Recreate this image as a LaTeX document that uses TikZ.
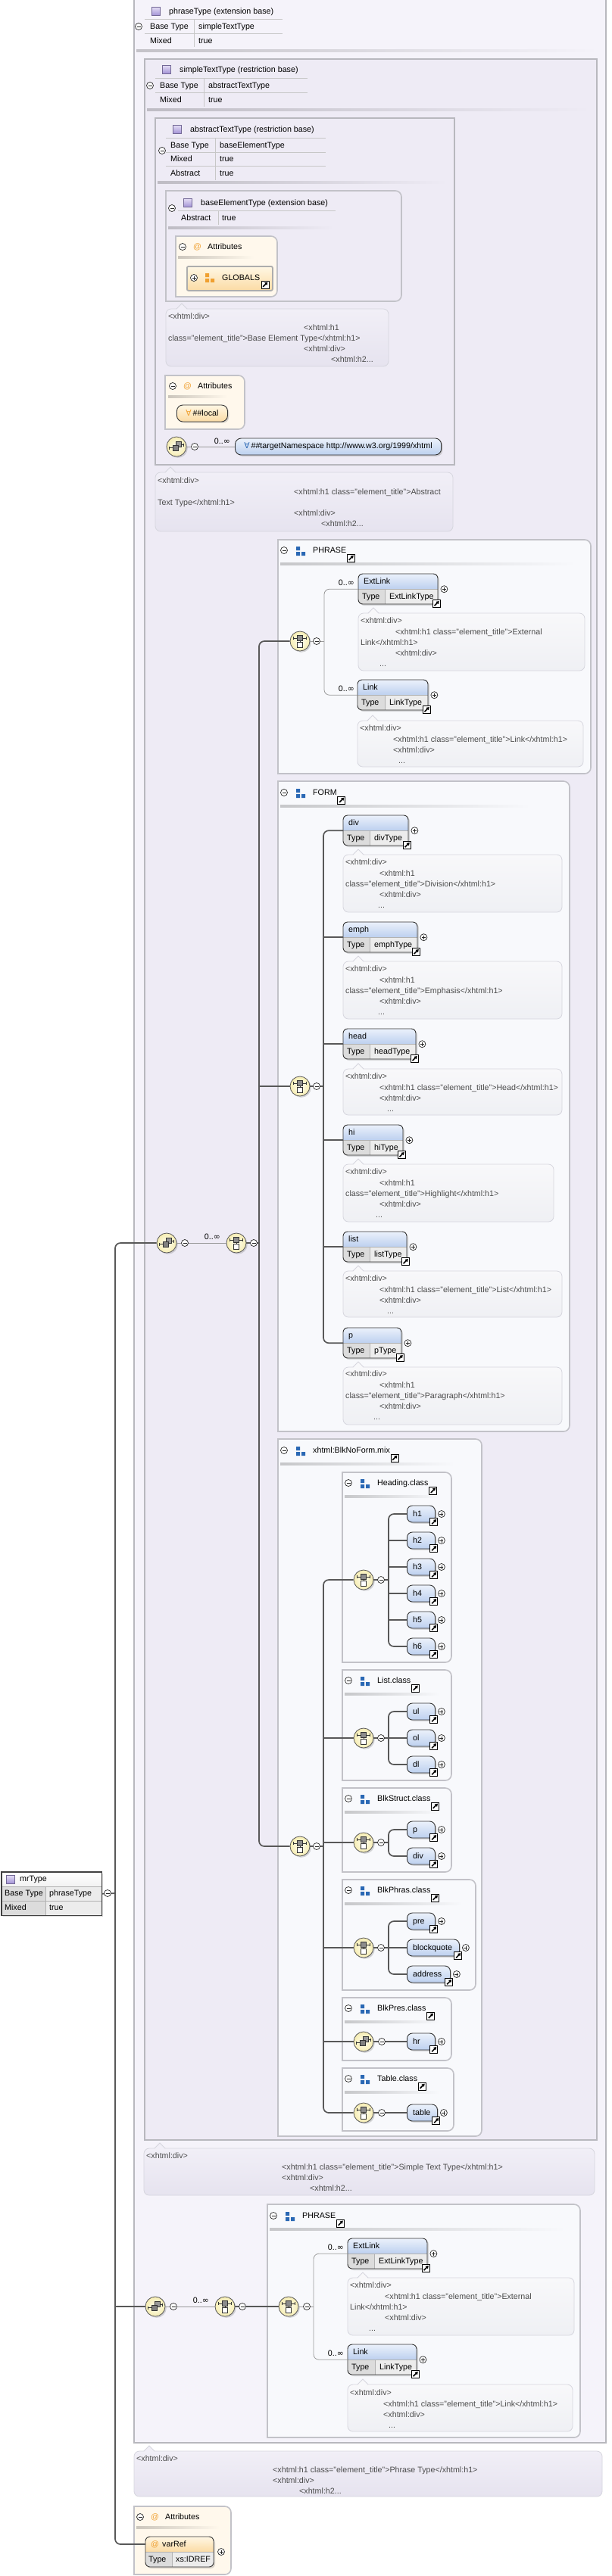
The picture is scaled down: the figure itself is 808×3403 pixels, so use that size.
\documentclass[tikz,border=0pt]{standalone}
\usepackage{fontspec}
\setmainfont{Liberation Sans}
\newfontfamily\symfont{DejaVu Sans}
\usetikzlibrary{arrows.meta,shadows,positioning}

\definecolor{typeout}{HTML}{F5F3FA}
\definecolor{typein}{HTML}{EEEBF5}
\definecolor{typeedge}{HTML}{B8B8BE}
\definecolor{grpbg}{HTML}{F8F9FC}
\definecolor{grpedge}{HTML}{C2C2C8}
\definecolor{docAtop}{HTML}{F1EFF7}
\definecolor{docAbot}{HTML}{E6E3EF}
\definecolor{docBtop}{HTML}{F8F8FA}
\definecolor{docBbot}{HTML}{EFF0F4}
\definecolor{docedge}{HTML}{D6D6DE}
\definecolor{doctext}{HTML}{4C4C4C}
\definecolor{attrbg}{HTML}{FFF8EC}
\definecolor{wire}{HTML}{585858}
\definecolor{thinwire}{HTML}{9A9A9A}
\definecolor{elhi}{HTML}{EBF1FB}
\definecolor{ello}{HTML}{BDD0EF}
\definecolor{cellA}{HTML}{DCDCDC}
\definecolor{cellB}{HTML}{ECECEC}
\definecolor{compin}{HTML}{FFFEF2}
\definecolor{compout}{HTML}{F6EDB2}
\definecolor{grpblue}{HTML}{2A68B4}
\definecolor{attorange}{HTML}{F0A030}
\definecolor{purpA}{HTML}{E6E0F6}
\definecolor{purpB}{HTML}{A494D6}
\definecolor{orhi}{HTML}{FFF7E4}
\definecolor{orlo}{HTML}{FBDBA4}

\newcommand{\lblfont}{\fontsize{10.7}{13}\selectfont}
\newcommand{\docfont}{\fontsize{10.7}{14.2}\selectfont}
\newcommand{\occ}{0..{\symfont ∞}}

\tikzset{
  lbl/.style={font=\lblfont, inner sep=0pt, anchor=west, text height=8pt, text depth=2pt},
  doc/.style={font=\docfont, text=doctext, inner sep=0pt, anchor=north west, align=left},
  shd/.style={drop shadow={shadow xshift=1.8pt, shadow yshift=-1.8pt, opacity=0.3}},
  ctl/.style={draw=black!85, fill=white, line width=0.7pt},
  ctlmark/.style={draw=black!85, line width=0.8pt},
  wireA/.style={draw=wire, line width=1.7pt, rounded corners=7pt},
  wireB/.style={draw=thinwire, line width=0.8pt, rounded corners=7pt},
  comp/.style={circle, minimum size=26pt, inner sep=0pt, draw=black!65, line width=0.8pt,
    inner color=compin, outer color=compout, shd},
  glyph/.style={draw=black!80, line width=0.7pt},
  typebox/.style={draw=typeedge, line width=1.6pt},
  tabline/.style={draw=black!22, line width=0.8pt},
  cellline/.style={draw=black!30, line width=0.6pt},
  telembox/.style={rectangle, rounded corners=6pt, minimum height=40pt, inner sep=0pt, fill=white, shd},
  elframe/.style={draw=black!80, line width=0.9pt},
  selem/.style={rectangle, rounded corners=7pt, minimum height=22pt, inner sep=0pt, elframe,
    top color=elhi, bottom color=ello, shd},
  pill/.style={rectangle, rounded corners=8pt, minimum height=22pt, inner xsep=12pt, inner ysep=0pt,
    elframe, font=\lblfont, shd},
  globbox/.style={rectangle, rounded corners=2pt, minimum height=32pt, inner sep=0pt,
    draw=black!32, line width=1.8pt, top color=orhi, bottom color=orlo},
  rootbox/.style={rectangle, minimum height=57pt, inner sep=0pt, fill=white, shd},
}

% small widgets, placed at a coordinate
\newcommand{\coll}[1]{\begin{scope}[shift={#1}]
  \draw[ctl] (0,0) circle[radius=4.5];
  \draw[ctlmark] (-2.5,0) -- (2.5,0);
\end{scope}}
\newcommand{\expd}[1]{\begin{scope}[shift={#1}]
  \draw[ctl] (0,0) circle[radius=4.5];
  \draw[ctlmark] (-2.5,0) -- (2.5,0) (0,-2.5) -- (0,2.5);
\end{scope}}
\newcommand{\linkic}[1]{\begin{scope}[shift={#1}]
  \draw[fill=white, draw=black, line width=0.9pt] (-5,-5) rectangle (5,5);
  \draw[line width=1.6pt, -{Triangle[length=3.6pt,width=4.4pt]}] (-2.8,2.8) -- (3.4,-3.4);
\end{scope}}
\newcommand{\grpicon}[2]{\begin{scope}[shift={#1}]
  \fill[#2] (0,0) rectangle (5,5) (0,7) rectangle (5,12) (7,7) rectangle (12,12);
\end{scope}}
\newcommand{\typeicon}[1]{\begin{scope}[shift={#1}]
  \shade[top color=purpA, bottom color=purpB, draw=purpB!70!black, line width=0.5pt] (0,0) rectangle (11,11);
\end{scope}}
\newcommand{\stackglyph}[1]{\begin{scope}[shift={#1}]
  \draw[glyph] (-9.5,1.5) -- (-5,1.5) (-9.5,-0.5) -- (-9.5,3.5);
  \draw[glyph] (6,-2.5) -- (9.5,-2.5) (9.5,-4.5) -- (9.5,-0.5);
  \draw[glyph, fill=black!40] (-1,-6.5) rectangle (6,0.5);
  \draw[glyph, fill=black!50] (-5,-2) rectangle (2,5);
\end{scope}}
\newcommand{\choiceglyph}[1]{\begin{scope}[shift={#1}]
  \draw[glyph] (-8.5,-4) -- (8.5,-4) (-8.5,-6) -- (-8.5,-2) (8.5,-6) -- (8.5,-2);
  \draw[glyph, fill=black!45] (-3.5,-7.5) rectangle (3.5,-0.5);
  \draw[glyph] (0,-0.5) -- (0,1);
  \draw[glyph, fill=white] (-3.5,1) rectangle (3.5,8);
\end{scope}}
\newcommand{\sepline}[4]{\shade[left color=black!20!#4, right color=#4] (#1,#3-1.2) rectangle (#2,#3+1.2);}

% boxes
\newcommand{\grpbox}[5]{\draw[draw=grpedge, line width=1.6pt, fill=#1] (#2,#3) -- (#4-8,#3)
  arc[start angle=-90, end angle=0, radius=8] -- (#4,#5-8)
  arc[start angle=0, end angle=90, radius=8] -- (#2,#5) -- cycle;}
\newcommand{\typehead}[4]{%
  \typeicon{(#2+23,#3-6)}
  \node[lbl] (#1) at (#2+46,#3) {#4};}
\newcommand{\grphead}[5]{%
  \coll{(#2+8,#3)}
  \grpicon{(#2+24,#3-5)}{grpblue}
  \node[lbl] (#1) at (#2+46,#3) {#4};
  \linkic{([xshift=6pt,yshift=-10pt]#1.east)}
  \sepline{#2+3}{#5}{#3+18}{grpbg}}
\newcommand{\attrhead}[3]{%
  \coll{(#2,#3)}
  \node[lbl, text=attorange] (#1-at) at (#2+14,#3) {@};
  \node[lbl] (#1) at (#2+33,#3) {Attributes};}
\newcommand{\docbox}[6]{%
  \draw[draw=docedge, line width=0.8pt, top color=doc#1top, bottom color=doc#1bot, rounded corners=7pt] (#2,#3) rectangle (#4,#5);
  \fill[doc#1top] (#6-7,#3+0.9) -- (#6,#3-7) -- (#6+7,#3+0.9) -- cycle;
  \draw[docedge, line width=0.8pt] (#6-7,#3) -- (#6,#3-7) -- (#6+7,#3);}

% element with a type row
\newcommand{\telem}[7]{%
  \node[telembox, minimum width=#4pt, anchor=north west] (#1) at (#2,#3) {};
  \begin{scope}
    \clip[rounded corners=6pt] (#2,#3) rectangle (#2+#4,#3+40);
    \shade[top color=elhi, bottom color=ello] (#2,#3) rectangle (#2+#4,#3+20);
    \fill[cellA] (#2,#3+20) rectangle (#2+#5,#3+40);
    \fill[cellB] (#2+#5,#3+20) rectangle (#2+#4,#3+40);
  \end{scope}
  \draw[cellline] (#2,#3+20) -- (#2+#4,#3+20) (#2+#5,#3+20) -- (#2+#5,#3+40);
  \draw[elframe, rounded corners=6pt] (#2,#3) rectangle (#2+#4,#3+40);
  \node[lbl] (#1-l) at (#2+7,#3+10) {#6};
  \node[lbl] (#1-k) at (#2+5,#3+30) {Type};
  \node[lbl] (#1-t) at (#2+#5+6,#3+30) {#7};
  \expd{([xshift=8pt]#1.east)}
  \linkic{([xshift=-2pt,yshift=1pt]#1.south east)}}
% element reference
\newcommand{\selem}[5]{%
  \node[selem, minimum width=#4pt, anchor=west] (#1) at (#2,#3) {};
  \node[lbl] (#1-l) at (#2+8,#3) {#5};
  \expd{([xshift=8pt]#1.east)}
  \linkic{([xshift=-2pt,yshift=1pt]#1.south east)}}

\begin{document}
\begin{tikzpicture}[x=1pt,y=-1pt]
\useasboundingbox (0,0) rectangle (808,3403);
\fill[white] (0,0) rectangle (808,3403);

% phraseType
\draw[typebox, fill=typeout] (177,-2) rectangle (800,3227);
\typehead{phT}{177}{15}{phraseType (extension base)}
\coll{(183,35)}
\draw[tabline] (191,25) -- (373,25) (191,44) -- (373,44) (256,25) -- (256,62);
\node[lbl] (phT-k1) at (198,35) {Base Type};
\node[lbl] (phT-v1) at (262,35) {simpleTextType};
\node[lbl] (phT-k2) at (198,54) {Mixed};
\node[lbl] (phT-v2) at (262,54) {true};
\sepline{180}{790}{67}{typeout}

% simpleTextType
\draw[typebox, fill=typein] (191,78) rectangle (788,2827);
\typehead{stT}{191}{92}{simpleTextType (restriction base)}
\coll{(198,113)}
\draw[tabline] (205,103) -- (406,103) (205,122) -- (406,122) (269,103) -- (269,141);
\node[lbl] (stT-k1) at (211,113) {Base Type};
\node[lbl] (stT-v1) at (275,113) {abstractTextType};
\node[lbl] (stT-k2) at (211,132) {Mixed};
\node[lbl] (stT-v2) at (275,132) {true};
\sepline{194}{780}{145}{typein}

% abstractTextType
\draw[typebox, fill=typein] (205,156) rectangle (600,614);
\typehead{atT}{205}{171}{abstractTextType (restriction base)}
\coll{(214,199)}
\draw[tabline] (219,182) -- (430,182) (219,201) -- (430,201) (219,219) -- (430,219) (284,182) -- (284,238);
\node[lbl] (atT-k1) at (225,192) {Base Type};
\node[lbl] (atT-v1) at (290,192) {baseElementType};
\node[lbl] (atT-k2) at (225,210) {Mixed};
\node[lbl] (atT-v2) at (290,210) {true};
\node[lbl] (atT-k3) at (225,229) {Abstract};
\node[lbl] (atT-v3) at (290,229) {true};
\sepline{208}{590}{241}{typein}

% baseElementType
\grpbox{typein}{219}{252}{530}{398}
\typehead{beT}{219}{268}{baseElementType (extension base)}
\coll{(227,275)}
\draw[tabline] (235,278) -- (443,278) (288,278) -- (288,297);
\node[lbl] (beT-k1) at (239,288) {Abstract};
\node[lbl] (beT-v1) at (293,288) {true};
\sepline{222}{440}{301}{typein}

\grpbox{attrbg}{232}{312}{366}{392}
\attrhead{atA}{241}{326}
\sepline{235}{335}{340}{attrbg}
\node[globbox, minimum width=113pt, anchor=north west] (glob) at (246,351) {};
\expd{(256,367)}
\grpicon{(271,361)}{attorange}
\node[lbl] (glob-l) at (293,367) {GLOBALS};
\linkic{(350,376)}

\docbox{A}{219}{408}{513}{484}{240}
\node[doc] (docBE) at (222,414) {<xhtml:div>\\
  \hspace*{179pt}<xhtml:h1\\
  class="element\_title">Base Element Type</xhtml:h1>\\
  \hspace*{179pt}<xhtml:div>\\
  \hspace*{215pt}<xhtml:h2...};

% attribute wildcard
\grpbox{attrbg}{218}{496}{323}{567}
\attrhead{atB}{228}{510}
\sepline{222}{300}{524}{attrbg}
\node[pill, top color=orhi, bottom color=orlo, anchor=west] (loc) at (233,546)
  {\textcolor{attorange}{\symfont ∀}\,\#\#local};

% element wildcard
\node[comp] (anyA) at (233,590) {};
\stackglyph{(233,590)}
\node[pill, top color=elhi, bottom color=ello, anchor=west] (tns) at (310,590)
  {\textcolor{grpblue}{\symfont ∀}\,\#\#targetNamespace http://www.w3.org/1999/xhtml};
\draw[wireB] (anyA.east) -- (tns.west);
\coll{(257,590)}
\node[lbl, anchor=east] (occA) at (304,583) {\occ};

\docbox{A}{205}{624}{598}{702}{225}
\node[doc] (docAT) at (208,631) {<xhtml:div>\\
  \hspace*{180pt}<xhtml:h1 class="element\_title">Abstract\\
  Text Type</xhtml:h1>\\
  \hspace*{180pt}<xhtml:div>\\
  \hspace*{216pt}<xhtml:h2...};

% PHRASE
\grpbox{grpbg}{367}{713}{780}{1022}
\grphead{PH1-l}{367}{727}{PHRASE}{760}
\node[comp] (seqP1) at (396,847) {};
\choiceglyph{(396,847)}
\coordinate (brP1) at (428,847);
\telem{extA}{473}{758}{105}{35}{ExtLink}{ExtLinkType}
\telem{lnkA}{472}{898}{93}{36}{Link}{LinkType}
\draw[wireB] (seqP1.east) -- (brP1);
\draw[wireB] (extA.west) -| (brP1) |- (lnkA.west);
\coll{(418,847)}
\node[lbl, anchor=east] (occP1a) at (468,770) {\occ};
\node[lbl, anchor=east] (occP1b) at (468,910) {\occ};
\docbox{B}{473}{810}{772}{886}{493}
\node[doc] (docEA) at (476,816) {<xhtml:div>\\
  \hspace*{46pt}<xhtml:h1 class="element\_title">External\\
  Link</xhtml:h1>\\
  \hspace*{46pt}<xhtml:div>\\
  \hspace*{25pt}...};
\docbox{B}{472}{952}{770}{1013}{492}
\node[doc] (docLA) at (475,958) {<xhtml:div>\\
  \hspace*{44pt}<xhtml:h1 class="element\_title">Link</xhtml:h1>\\
  \hspace*{44pt}<xhtml:div>\\
  \hspace*{51pt}...};

% FORM
\grpbox{grpbg}{367}{1032}{752}{1891}
\grphead{FM-l}{367}{1047}{FORM}{700}
\node[comp] (seqFM) at (396,1435) {};
\choiceglyph{(396,1435)}
\coordinate (brFM) at (427,1435);
\telem{fdiv}{453}{1077}{86}{35}{div}{divType}
\telem{femph}{453}{1218}{98}{35}{emph}{emphType}
\telem{fhead}{453}{1359}{96}{35}{head}{headType}
\telem{fhi}{453}{1486}{79}{35}{hi}{hiType}
\telem{flist}{453}{1627}{84}{35}{list}{listType}
\telem{fp}{453}{1754}{77}{35}{p}{pType}
\draw[wireA] (seqFM.east) -- (brFM);
\draw[wireA] (fdiv.west) -| (brFM) |- (fp.west);
\foreach \e in {femph,fhead,fhi,flist}
  \draw[wireA] (\e.west) -- (\e.west -| brFM);
\coll{(418,1435)}
\docbox{B}{453}{1129}{742}{1205}{473}
\node[doc] (docFdiv) at (456,1135) {<xhtml:div>\\
  \hspace*{45pt}<xhtml:h1\\
  class="element\_title">Division</xhtml:h1>\\
  \hspace*{45pt}<xhtml:div>\\
  \hspace*{43pt}...};
\docbox{B}{453}{1270}{742}{1346}{473}
\node[doc] (docFemph) at (456,1276) {<xhtml:div>\\
  \hspace*{45pt}<xhtml:h1\\
  class="element\_title">Emphasis</xhtml:h1>\\
  \hspace*{45pt}<xhtml:div>\\
  \hspace*{43pt}...};
\docbox{B}{453}{1412}{742}{1473}{473}
\node[doc] (docFhead) at (456,1418) {<xhtml:div>\\
  \hspace*{45pt}<xhtml:h1 class="element\_title">Head</xhtml:h1>\\
  \hspace*{45pt}<xhtml:div>\\
  \hspace*{55pt}...};
\docbox{B}{453}{1538}{731}{1614}{473}
\node[doc] (docFhi) at (456,1544) {<xhtml:div>\\
  \hspace*{45pt}<xhtml:h1\\
  class="element\_title">Highlight</xhtml:h1>\\
  \hspace*{45pt}<xhtml:div>\\
  \hspace*{40pt}...};
\docbox{B}{453}{1679}{742}{1740}{473}
\node[doc] (docFlist) at (456,1685) {<xhtml:div>\\
  \hspace*{45pt}<xhtml:h1 class="element\_title">List</xhtml:h1>\\
  \hspace*{45pt}<xhtml:div>\\
  \hspace*{55pt}...};
\docbox{B}{453}{1806}{742}{1882}{473}
\node[doc] (docFp) at (456,1811) {<xhtml:div>\\
  \hspace*{45pt}<xhtml:h1\\
  class="element\_title">Paragraph</xhtml:h1>\\
  \hspace*{45pt}<xhtml:div>\\
  \hspace*{37pt}...};

% xhtml:BlkNoForm.mix
\grpbox{grpbg}{367}{1901}{636}{2822}
\grphead{BN-l}{367}{1916}{xhtml:BlkNoForm.mix}{600}
\node[comp] (seqBN) at (396,2439) {};
\choiceglyph{(396,2439)}
\coordinate (brBN) at (427,2439);

\grpbox{grpbg}{452}{1945}{596}{2196}
\grphead{HC-l}{452}{1959}{Heading.class}{580}
\node[comp] (cH) at (480,2087) {};
\choiceglyph{(480,2087)}
\coordinate (brH) at (513,2087);
\foreach \n/\y in {1/2000,2/2035,3/2070,4/2105,5/2140,6/2175}
  {\selem{h\n}{537}{\y}{37}{h\n}}
\draw[wireA] (cH.east) -- (brH);
\draw[wireA] (h1.west) -| (brH) |- (h6.west);
\foreach \n in {2,...,5}
  \draw[wireA] (h\n.west) -- (h\n.west -| brH);
\coll{(503,2087)}

\grpbox{grpbg}{452}{2206}{596}{2352}
\grphead{LC-l}{452}{2220}{List.class}{580}
\node[comp] (cL) at (480,2296) {};
\choiceglyph{(480,2296)}
\coordinate (brL) at (513,2296);
\selem{ul}{537}{2261}{37}{ul}
\selem{ol}{537}{2296}{37}{ol}
\selem{dl}{537}{2331}{37}{dl}
\draw[wireA] (cL.east) -- (brL);
\draw[wireA] (ul.west) -| (brL) |- (dl.west);
\draw[wireA] (ol.west) -- (brL);
\coll{(503,2296)}

\grpbox{grpbg}{452}{2362}{596}{2473}
\grphead{SC-l}{452}{2376}{BlkStruct.class}{580}
\node[comp] (cS) at (480,2434) {};
\choiceglyph{(480,2434)}
\coordinate (brS) at (513,2434);
\selem{sp}{537}{2417}{37}{p}
\selem{sdiv}{537}{2452}{37}{div}
\draw[wireA] (cS.east) -- (brS);
\draw[wireA] (sp.west) -| (brS) |- (sdiv.west);
\coll{(503,2434)}

\grpbox{grpbg}{452}{2483}{628}{2629}
\grphead{PC-l}{452}{2497}{BlkPhras.class}{610}
\node[comp] (cP) at (480,2573) {};
\choiceglyph{(480,2573)}
\coordinate (brP) at (513,2573);
\selem{pre}{537}{2538}{37}{pre}
\selem{bq}{537}{2573}{69}{blockquote}
\selem{addr}{537}{2608}{57}{address}
\draw[wireA] (cP.east) -- (brP);
\draw[wireA] (pre.west) -| (brP) |- (addr.west);
\draw[wireA] (bq.west) -- (brP);
\coll{(503,2573)}

\grpbox{grpbg}{452}{2639}{596}{2722}
\grphead{RC-l}{452}{2653}{BlkPres.class}{580}
\node[comp] (cR) at (480,2697) {};
\stackglyph{(480,2697)}
\selem{hr}{537}{2697}{37}{hr}
\draw[wireA] (cR.east) -- (hr.west);
\coll{(504,2697)}

\grpbox{grpbg}{452}{2732}{599}{2815}
\grphead{TC-l}{452}{2746}{Table.class}{580}
\node[comp] (cT) at (480,2791) {};
\choiceglyph{(480,2791)}
\selem{tbl}{537}{2791}{40}{table}
\draw[wireA] (cT.east) -- (tbl.west);
\coll{(504,2791)}

\draw[wireA] (seqBN.east) -- (brBN);
\draw[wireA] (cH.west) -| (brBN) |- (cT.west);
\foreach \c in {cL,cS,cP,cR}
  \draw[wireA] (\c.west) -- (\c.west -| brBN);
\coll{(418,2439)}

% content of simpleTextType
\node[comp] (allS) at (220,1642) {};
\stackglyph{(220,1642)}
\node[comp] (chS) at (312,1642) {};
\choiceglyph{(312,1642)}
\coordinate (brMain) at (342,1642);
\draw[wireB] (allS.east) -- (chS.west);
\draw[wireA] (chS.east) -- (brMain);
\draw[wireA] (seqP1.west) -| (brMain) |- (seqBN.west);
\draw[wireA] (seqFM.west) -- (seqFM.west -| brMain);
\coll{(244,1642)}
\coll{(335,1642)}
\node[lbl, anchor=east] (occS) at (291,1634) {\occ};

\docbox{A}{190}{2838}{785}{2900}{211}
\node[doc] (docST) at (193,2844) {<xhtml:div>\\
  \hspace*{179pt}<xhtml:h1 class="element\_title">Simple Text Type</xhtml:h1>\\
  \hspace*{179pt}<xhtml:div>\\
  \hspace*{216pt}<xhtml:h2...};

% PHRASE in the extension
\grpbox{grpbg}{353}{2912}{766}{3220}
\grphead{PH2-l}{353}{2927}{PHRASE}{746}
\node[comp] (chP2) at (381,3047) {};
\choiceglyph{(381,3047)}
\coordinate (brP2) at (414,3047);
\telem{extB}{459}{2957}{105}{35}{ExtLink}{ExtLinkType}
\telem{lnkB}{459}{3097}{91}{36}{Link}{LinkType}
\draw[wireB] (chP2.east) -- (brP2);
\draw[wireB] (extB.west) -| (brP2) |- (lnkB.west);
\coll{(405,3047)}
\node[lbl, anchor=east] (occP2a) at (454,2969) {\occ};
\node[lbl, anchor=east] (occP2b) at (454,3109) {\occ};
\docbox{B}{459}{3009}{758}{3085}{479}
\node[doc] (docEB) at (462,3015) {<xhtml:div>\\
  \hspace*{46pt}<xhtml:h1 class="element\_title">External\\
  Link</xhtml:h1>\\
  \hspace*{46pt}<xhtml:div>\\
  \hspace*{25pt}...};
\docbox{B}{459}{3150}{756}{3212}{479}
\node[doc] (docLB) at (462,3157) {<xhtml:div>\\
  \hspace*{44pt}<xhtml:h1 class="element\_title">Link</xhtml:h1>\\
  \hspace*{44pt}<xhtml:div>\\
  \hspace*{51pt}...};

\node[comp] (allT) at (205,3047) {};
\stackglyph{(205,3047)}
\node[comp] (chT) at (297,3047) {};
\choiceglyph{(297,3047)}
\draw[wireB] (allT.east) -- (chT.west);
\draw[wireA] (chT.east) -- (chP2.west);
\coll{(229,3047)}
\coll{(320,3047)}
\node[lbl, anchor=east] (occT) at (276,3039) {\occ};

\docbox{A}{177}{3238}{795}{3298}{197}
\node[doc] (docPT) at (180,3244) {<xhtml:div>\\
  \hspace*{180pt}<xhtml:h1 class="element\_title">Phrase Type</xhtml:h1>\\
  \hspace*{180pt}<xhtml:div>\\
  \hspace*{215pt}<xhtml:h2...};

% attributes of mrType
\grpbox{attrbg}{177}{3311}{305}{3401}
\attrhead{atC}{185}{3325}
\sepline{180}{290}{3339}{attrbg}
\node[telembox, minimum width=90pt, anchor=north west] (varRef) at (192,3351) {};
\begin{scope}
  \clip[rounded corners=6pt] (192,3351) rectangle (282,3391);
  \shade[top color=orhi, bottom color=orlo] (192,3351) rectangle (282,3371);
  \fill[cellA] (192,3371) rectangle (227,3391);
  \fill[cellB] (227,3371) rectangle (282,3391);
\end{scope}
\draw[cellline] (192,3371) -- (282,3371) (227,3371) -- (227,3391);
\draw[elframe, rounded corners=6pt] (192,3351) rectangle (282,3391);
\node[lbl, text=attorange] (varRef-at) at (199,3361) {@};
\node[lbl] (varRef-l) at (214,3361) {varRef};
\node[lbl] (varRef-k) at (196,3381) {Type};
\node[lbl] (varRef-t) at (232,3381) {xs:IDREF};
\expd{(292,3371)}

% mrType
\node[rootbox, minimum width=132pt, anchor=north west] (mrT) at (2,2473) {};
\shade[top color=white, bottom color=black!5] (2,2473) rectangle (134,2492);
\fill[cellA] (2,2492) rectangle (60,2530);
\fill[cellB] (60,2492) rectangle (134,2530);
\draw[cellline] (2,2492) -- (134,2492) (2,2511) -- (134,2511) (60,2492) -- (60,2530);
\draw[draw=black!75, line width=1.6pt] (mrT.north west) rectangle (mrT.south east);
\typeicon{(8,2477)}
\node[lbl] (mrT-l) at (26,2482) {mrType};
\node[lbl] (mrT-k1) at (6,2501) {Base Type};
\node[lbl] (mrT-v1) at (65,2501) {phraseType};
\node[lbl] (mrT-k2) at (6,2520) {Mixed};
\node[lbl] (mrT-v2) at (65,2520) {true};

\coordinate (brRoot) at (152,2501);
\coordinate (varRef-c) at (192,3361);
\draw[wireA] (mrT.east) -- (brRoot);
\draw[wireA] (allS.west) -| (brRoot) |- (varRef-c);
\draw[wireA] (allT.west) -- (allT.west -| brRoot);
\coll{(142,2501)}

\end{tikzpicture}
\end{document}
